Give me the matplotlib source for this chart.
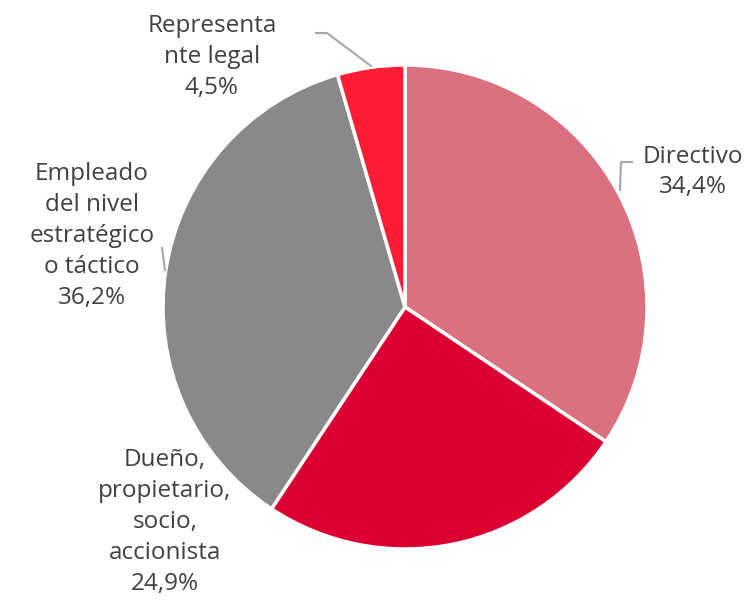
import matplotlib.pyplot as plt

# Data
labels = ["Directivo", "Dueño,\npropietario,\nsocio,\naccionista",
          "Empleado\ndel nivel\nestratégico\no táctico", "Representa\nnte legal"]
values = [34.4, 24.9, 36.2, 4.5]
colors = ["#DB7080", "#DC0032", "#898989", "#FF1C35"]

W, H = 753, 608
fig = plt.figure(figsize=(W / 100, H / 100), dpi=100)
ax = fig.add_axes([0, 0, 1, 1])

# y-axis inverted (pixel coords), so counterclock=True with start -90 draws clockwise from top
cx, cy, r = 405, 307, 242
ax.pie(values, colors=colors, startangle=-90, counterclock=True,
       center=(cx, cy), radius=r, frame=True,
       wedgeprops=dict(edgecolor="white", linewidth=2.5))
ax.set_xlim(0, W)
ax.set_ylim(H, 0)
ax.set_aspect("equal")
ax.axis("off")

font = dict(fontsize=17.5, color="#404040", ha="center", va="center",
            family=["Open Sans", "DejaVu Sans"], linespacing=1.38)
pos = [(693, 172), (165, 522), (92, 236), (212, 57)]
for lab, v, (x, y) in zip(labels, values, pos):
    txt = lab + "\n" + f"{v:.1f}".replace(".", ",") + "%"
    ax.text(x, y, txt, **font)

lc = dict(color="#A6A6A6", linewidth=1.5)
ax.plot([316, 327, 371], [33, 33, 66], **lc)
ax.plot([632, 621, 620], [162, 162, 190], **lc)
ax.plot([162, 165], [248, 270], **lc)

fig.savefig("out.png", dpi=100)
